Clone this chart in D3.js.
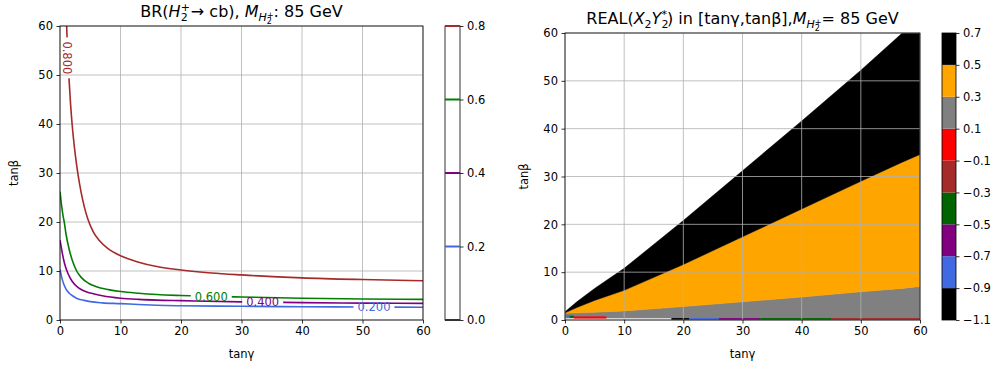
<!DOCTYPE html>
<html>
<head>
<meta charset="utf-8">
<script src="https://cdn.jsdelivr.net/npm/d3@7"></script>
<style>
body { margin: 0; background: #fff; }
svg { font-family: "DejaVu Sans", sans-serif; }
</style>
</head>
<body>
<svg id="chart" width="996" height="370"></svg>
<script>
// ---- DATA ----
const gammaTicks = [0, 10, 20, 30, 40, 50, 60];
const betaTicks = [0, 10, 20, 30, 40, 50, 60];

// left panel: BR contour levels and their lines, [tan gamma, tan beta]
const brLevels = [0.0, 0.2, 0.4, 0.6, 0.8];
const contour02 = [[0,10.3],[0.3,8.6],[0.6,7.4],[1.0,6.3],[1.5,5.5],[2.0,5.0],[3,4.3],[4,4.0],[5,3.75],[7,3.5],[10,3.35],[13,3.15],[16,3.0],[20,2.9],[30,2.8],[40,2.7],[50,2.65],[60,2.6]];
const contour04 = [[0,16.3],[0.3,14.2],[0.6,12.3],[1.0,10.5],[1.5,9.0],[2.0,7.9],[3,6.6],[4,5.9],[5,5.5],[7,4.95],[10,4.45],[13,4.2],[16,4.05],[20,3.95],[30,3.7],[40,3.55],[50,3.45],[60,3.4]];
const contour06 = [[0,26.2],[0.25,23.5],[0.5,21.3],[0.7,20],[1.0,17.5],[1.5,14.5],[2.0,12.3],[2.75,10],[3.5,8.7],[4.7,7.5],[6,6.8],[8,6.2],[10,5.8],[13,5.45],[16,5.2],[20,5.0],[30,4.7],[40,4.45],[50,4.3],[60,4.2]];
const contour08 = [[1.05,62],[1.1,60],[1.3,54],[1.5,49],[1.75,44],[2.0,40],[2.5,34],[3.0,29.5],[3.5,26],[4.0,23.2],[4.6,20.6],[5.5,18],[6.5,16.2],[8,14.5],[10,13.1],[13,11.8],[16,10.9],[20,10.2],[25,9.6],[30,9.2],[40,8.6],[50,8.25],[60,8.0]];
const labelText = ["0.200", "0.400", "0.600", "0.800"];
const labelGamma = [51.9, 33.5, 25.0, 1.15];
const labelBeta = [2.65, 3.7, 4.75, 53.5];

// right panel: colour levels of REAL(X2 Y2*)
const realLevels = [-1.1, -0.9, -0.7, -0.5, -0.3, -0.1, 0.1, 0.3, 0.5, 0.7];
// region boundaries in tan beta along tan gamma
const regionGamma = [0, 2, 5, 10, 20, 30, 40, 50, 57, 60];
const grayTop   = [1.4, 1.5, 1.6, 1.9, 2.8, 3.8, 4.8, 5.9, 6.6, 7.0];
const orangeTop = [1.5, 2.6, 4.1, 6.2, 11.6, 17.4, 23.2, 29.0, 33.0, 34.6];
const blackTop  = [1.7, 3.8, 6.6, 10.8, 20.8, 31.2, 41.6, 52.2, 60, 63];
const regionValue = [0.2, 0.4, 0.6];
// thin strip of cells along tan beta ~ 0
const stripFrom  = [0, 0.3, 0.8, 1.5, 18, 21, 26, 33, 45];
const stripTo    = [18, 0.8, 1.5, 7, 21, 26, 33, 45, 60];
const stripLow   = [0, 0.5, 0.45, 0.3, 0, 0, 0, 0, 0];
const stripHigh  = [0.35, 1.0, 0.9, 0.75, 0.4, 0.4, 0.4, 0.4, 0.4];
const stripValue = [null, -0.8, -0.4, 0.0, -1.0, -0.8, -0.6, -0.4, -0.2];

// ---- STYLE ----
const brColors = ["#333333", "royalblue", "purple", "green", "brown"];
const realColors = ["black", "royalblue", "purple", "darkgreen", "brown", "red", "gray", "orange", "black"];
const tickFont = 11.5, titleFont = 16, subFont = 11, subSubFont = 8;
const gridColor = "#b0b0b0";

const L = { x0: 60, x1: 423, y0: 26, y1: 320 };
const R = { x0: 565, x1: 920, y0: 33, y1: 320 };
const CB1 = { x0: 445, x1: 460, y0: 26, y1: 320 };
const CB2 = { x0: 942, x1: 956, y0: 33, y1: 320 };

const svg = d3.select("#chart");
const defs = svg.append("defs");

function styleAxis(g) {
    g.selectAll("text").attr("font-size", tickFont).attr("fill", "#000")
        .attr("font-family", "DejaVu Sans, sans-serif");
    g.selectAll("line").attr("stroke", "#000").attr("stroke-width", 0.8);
    g.select(".domain").remove();
}

// rich text with sub/superscripts: parts = {t, shift, size, italic, dx}
function richText(sel, parts) {
    let prev = 0;
    parts.forEach(p => {
        const shift = p.shift || 0;
        sel.append("tspan")
            .attr("dy", shift - prev)
            .attr("dx", p.dx || null)
            .attr("font-size", p.size || null)
            .attr("font-style", p.italic ? "italic" : null)
            .text(p.t);
        prev = shift;
    });
}

function drawFrame(P, x, y, label) {
    const g = svg.append("g");
    g.append("g").attr("transform", `translate(0,${P.y1})`)
        .call(d3.axisBottom(x).tickValues(gammaTicks).tickSize(3.5).tickPadding(3.5).tickSizeOuter(0))
        .call(styleAxis);
    g.append("g").attr("transform", `translate(${P.x0},0)`)
        .call(d3.axisLeft(y).tickValues(betaTicks).tickSize(3.5).tickPadding(3.5).tickSizeOuter(0))
        .call(styleAxis);
    g.append("rect").attr("x", P.x0).attr("y", P.y0)
        .attr("width", P.x1 - P.x0).attr("height", P.y1 - P.y0)
        .attr("fill", "none").attr("stroke", "#000").attr("stroke-width", 0.8);
    g.append("text").attr("x", (P.x0 + P.x1) / 2).attr("y", 358)
        .attr("text-anchor", "middle").attr("font-size", tickFont).text("tan\u03b3");
    g.append("text").attr("transform", `translate(${label},${(P.y0 + P.y1) / 2}) rotate(-90)`)
        .attr("text-anchor", "middle").attr("font-size", tickFont).text("tan\u03b2");
}

function drawGrid(P, x, y) {
    const g = svg.append("g").attr("stroke", gridColor).attr("stroke-width", 0.8);
    gammaTicks.forEach(t => g.append("line").attr("x1", x(t)).attr("x2", x(t)).attr("y1", P.y0).attr("y2", P.y1));
    betaTicks.forEach(t => g.append("line").attr("x1", P.x0).attr("x2", P.x1).attr("y1", y(t)).attr("y2", y(t)));
}

// ---- LEFT PANEL ----
const xL = d3.scaleLinear().domain([0, 60]).range([L.x0, L.x1]);
const yL = d3.scaleLinear().domain([0, 60]).range([L.y1, L.y0]);

defs.append("clipPath").attr("id", "clipL").append("rect")
    .attr("x", L.x0).attr("y", L.y0).attr("width", L.x1 - L.x0).attr("height", L.y1 - L.y0);

drawGrid(L, xL, yL);

const contours = [contour02, contour04, contour06, contour08];
const line = d3.line().x(d => xL(d[0])).y(d => yL(d[1])).curve(d3.curveMonotoneX);
const cg = svg.append("g").attr("clip-path", "url(#clipL)");
const labelsG = svg.append("g");

contours.forEach((c, i) => {
    const col = brColors[i + 1];
    const lx = xL(labelGamma[i]), ly = yL(labelBeta[i]);
    const rot = i === 3 ? 90 : 0;
    const t = labelsG.append("text")
        .attr("transform", `translate(${lx},${ly}) rotate(${rot})`)
        .attr("text-anchor", "middle").attr("dominant-baseline", "central")
        .attr("font-size", tickFont).attr("fill", col).text(labelText[i]);
    const bb = t.node().getBBox();
    const mask = defs.append("mask").attr("id", "m" + i)
        .attr("maskUnits", "userSpaceOnUse")
        .attr("x", 0).attr("y", 0).attr("width", 996).attr("height", 370);
    mask.append("rect").attr("width", 996).attr("height", 370).attr("fill", "#fff");
    mask.append("rect").attr("transform", `translate(${lx},${ly}) rotate(${rot})`)
        .attr("x", bb.x - 4).attr("y", bb.y + 2).attr("width", bb.width + 8).attr("height", bb.height - 4)
        .attr("fill", "#000");
    cg.append("path").datum(c).attr("d", line)
        .attr("fill", "none").attr("stroke", col).attr("stroke-width", 1.6)
        .attr("mask", `url(#m${i})`);
});

drawFrame(L, xL, yL, 18);

const titleL = svg.append("text").attr("x", (L.x0 + L.x1) / 2).attr("y", 17)
    .attr("text-anchor", "middle").attr("font-size", titleFont);
richText(titleL, [
    { t: "BR(" },
    { t: "H", italic: true },
    { t: "2", shift: 4, size: subFont },
    { t: "+", shift: -6, size: subFont, dx: -7 },
    { t: "\u2192", shift: 0, dx: 1 },
    { t: " cb), ", shift: 0 },
    { t: "M", italic: true },
    { t: "H", italic: true, shift: 4, size: subFont },
    { t: "2", shift: 7, size: subSubFont },
    { t: "+", shift: 0.5, size: subSubFont, dx: -5 },
    { t: ": 85 GeV", shift: 0 }
]);

// left colour bar
const cb1 = d3.scaleLinear().domain([0, 0.8]).range([CB1.y1, CB1.y0]);
svg.append("rect").attr("x", CB1.x0).attr("y", CB1.y0)
    .attr("width", CB1.x1 - CB1.x0).attr("height", CB1.y1 - CB1.y0)
    .attr("fill", "#fff").attr("stroke", "#000").attr("stroke-width", 0.8);
brLevels.forEach((lv, i) => {
    svg.append("line").attr("x1", CB1.x0).attr("x2", CB1.x1)
        .attr("y1", cb1(lv)).attr("y2", cb1(lv))
        .attr("stroke", brColors[i]).attr("stroke-width", 2);
});
svg.append("g").attr("transform", `translate(${CB1.x1},0)`)
    .call(d3.axisRight(cb1).tickValues(brLevels).tickFormat(d3.format(".1f")).tickSize(3.5).tickPadding(3.5).tickSizeOuter(0))
    .call(styleAxis);

// ---- RIGHT PANEL ----
const xR = d3.scaleLinear().domain([0, 60]).range([R.x0, R.x1]);
const yR = d3.scaleLinear().domain([0, 60]).range([R.y1, R.y0]);
const colorR = d3.scaleThreshold().domain(realLevels.slice(1, -1)).range(realColors);

defs.append("clipPath").attr("id", "clipR").append("rect")
    .attr("x", R.x0).attr("y", R.y0).attr("width", R.x1 - R.x0).attr("height", R.y1 - R.y0);

const rg = svg.append("g").attr("clip-path", "url(#clipR)");
const bands = [
    regionGamma.map((g, i) => [g, 0, grayTop[i]]),
    regionGamma.map((g, i) => [g, grayTop[i], orangeTop[i]]),
    regionGamma.map((g, i) => [g, orangeTop[i], blackTop[i]])
];
const area = d3.area().x(d => xR(d[0])).y0(d => yR(d[1])).y1(d => yR(d[2]));
bands.forEach((b, i) => {
    rg.append("path").datum(b).attr("d", area)
        .attr("fill", colorR(regionValue[i])).attr("stroke", colorR(regionValue[i])).attr("stroke-width", 0.5);
});
stripFrom.forEach((f, i) => {
    rg.append("rect")
        .attr("x", xR(f)).attr("width", xR(stripTo[i]) - xR(f))
        .attr("y", yR(stripHigh[i])).attr("height", yR(stripLow[i]) - yR(stripHigh[i]))
        .attr("fill", stripValue[i] === null ? "#fff" : colorR(stripValue[i]));
});

drawGrid(R, xR, yR);
drawFrame(R, xR, yR, 528);

const titleR = svg.append("text").attr("x", (R.x0 + R.x1) / 2).attr("y", 24)
    .attr("text-anchor", "middle").attr("font-size", titleFont);
richText(titleR, [
    { t: "REAL(" },
    { t: "X", italic: true },
    { t: "2", shift: 4, size: subFont },
    { t: "Y", italic: true, shift: 0 },
    { t: "2", shift: 4, size: subFont },
    { t: "*", shift: -6, size: subFont, dx: -7 },
    { t: ") in [tan\u03b3,tan\u03b2],", shift: 0 },
    { t: "M", italic: true },
    { t: "H", italic: true, shift: 4, size: subFont },
    { t: "2", shift: 7, size: subSubFont },
    { t: "+", shift: 0.5, size: subSubFont, dx: -5 },
    { t: "= 85 GeV", shift: 0 }
]);

// right colour bar
const cb2 = d3.scaleLinear().domain([-1.1, 0.7]).range([CB2.y1, CB2.y0]);
realLevels.slice(0, -1).forEach((lv, i) => {
    svg.append("rect").attr("x", CB2.x0).attr("width", CB2.x1 - CB2.x0)
        .attr("y", cb2(realLevels[i + 1])).attr("height", cb2(lv) - cb2(realLevels[i + 1]))
        .attr("fill", realColors[i]);
});
svg.append("rect").attr("x", CB2.x0).attr("y", CB2.y0)
    .attr("width", CB2.x1 - CB2.x0).attr("height", CB2.y1 - CB2.y0)
    .attr("fill", "none").attr("stroke", "#000").attr("stroke-width", 0.8);
svg.append("g").attr("transform", `translate(${CB2.x1},0)`)
    .call(d3.axisRight(cb2).tickValues(realLevels).tickFormat(d3.format(".1f")).tickSize(3.5).tickPadding(3.5).tickSizeOuter(0))
    .call(styleAxis);
</script>
</body>
</html>
